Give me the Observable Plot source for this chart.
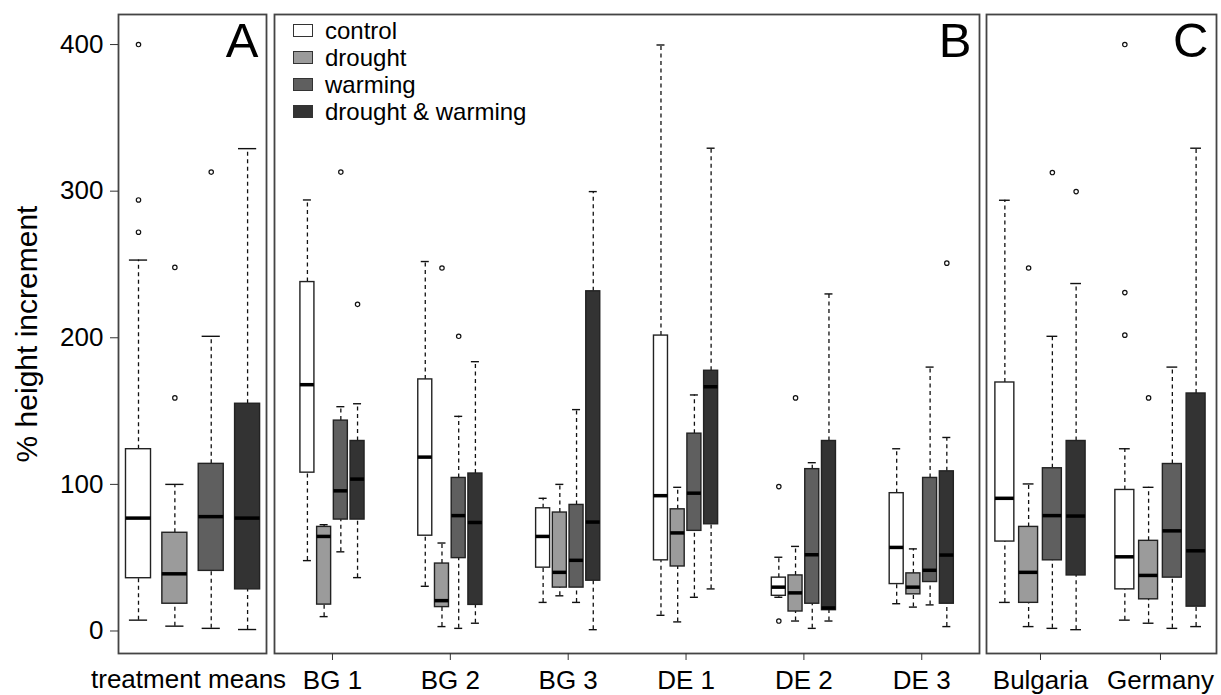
<!DOCTYPE html>
<html><head><meta charset="utf-8">
<script src="https://cdn.jsdelivr.net/npm/d3@7"></script>
<script src="https://cdn.jsdelivr.net/npm/@observablehq/plot@0.6"></script>
<style>
body{margin:0;background:#fff;font-family:"Liberation Sans",Arial,sans-serif}
#wrap{position:relative;width:1221px;height:695px;overflow:hidden;background:#fff}
#wrap svg{position:absolute;top:0;overflow:visible}
.legend{position:absolute;left:293px;top:17px;font-size:24px;color:#000;font-family:"Liberation Sans",Arial,sans-serif}
.legend div{display:flex;align-items:center;height:27px}
.legend span.sw{display:inline-block;width:18px;height:11px;border:1.3px solid #333;margin-right:12px;box-sizing:content-box}
</style></head><body><div id="wrap"></div>
<script>
// ---- data ----
const groups = ["treatment means","BG 1","BG 2","BG 3","DE 1","DE 2","DE 3","Bulgaria","Germany"];
const treatments = ["control","drought","warming","drought & warming"];
const treatmentFills = ["#ffffff","#9b9b9b","#5f5f5f","#333333"];
const yTicks = [0,100,200,300,400];

// rows follow `groups`, columns follow `treatments`
const whiskerLow = [
  [7.4, 3.3, 1.8, 1],
  [48, 9.8, 54, 36.4],
  [30.5, 3, 1.8, 5.3],
  [19.5, 24, 19.5, 0.9],
  [10.7, 6.2, 23, 28.7],
  [23, 6.8, 1.8, 6.8],
  [18.6, 16.3, 17.8, 3],
  [19.5, 3, 1.8, 0.9],
  [7.4, 5.3, 1.8, 3]
];
const lowerQuartile = [
  [36, 18.6, 41, 28.4],
  [108, 18, 76, 76],
  [65, 16.3, 49.7, 17.8],
  [43.2, 29.6, 29.6, 34.3],
  [48.2, 44, 68.3, 72.8],
  [24, 13.3, 18.6, 14.2],
  [32, 25, 33.4, 18.6],
  [61, 19.2, 48.2, 37.9],
  [28.4, 21.6, 36.4, 16.6]
];
const medians = [
  [77, 39, 78, 77],
  [168, 64.5, 95.6, 103.6],
  [118.6, 20.7, 78.7, 74],
  [64.5, 40, 48.2, 74.3],
  [92.3, 66.9, 94, 166.6],
  [29.9, 26, 52, 15.7],
  [57, 29.9, 41.4, 51.8],
  [90.5, 40, 78.7, 78.4],
  [50.6, 37.9, 68.3, 54.7]
];
const upperQuartile = [
  [124, 67, 114, 155],
  [238, 71, 143.5, 129.6],
  [171.6, 46, 104.4, 107.4],
  [83.7, 80.8, 86, 231.7],
  [201.5, 83, 134.6, 177.5],
  [36.4, 37.9, 110.4, 129.6],
  [94, 39.3, 104.4, 108.9],
  [169.5, 71, 111, 129.6],
  [96.2, 61.5, 113.9, 162]
];
const whiskerHigh = [
  [253, 100, 201, 329],
  [294, 72.5, 153, 155],
  [252, 60, 146.4, 183.7],
  [90.5, 100, 151, 299.7],
  [399.7, 98, 161, 329.3],
  [50.3, 57.7, 114.8, 229.9],
  [124.3, 56, 180, 132],
  [293.8, 100.3, 201, 237],
  [124.3, 98, 180, 329.3]
];
const outlierGroup = ["treatment means","treatment means","treatment means","treatment means","treatment means","treatment means",
  "BG 1","BG 1","BG 2","BG 2","DE 2","DE 2","DE 2","DE 3",
  "Bulgaria","Bulgaria","Bulgaria","Germany","Germany","Germany","Germany"];
const outlierTreatment = ["control","control","control","drought","drought","warming",
  "warming","drought & warming","drought","warming","control","control","drought","drought & warming",
  "drought","warming","drought & warming","control","control","control","drought"];
const outlierValue = [400, 294, 272, 248, 159, 313,
  313, 222.8, 247.6, 201, 98.5, 6.8, 159, 250.9,
  247.6, 312.7, 299.7, 400, 230.8, 201.8, 159];

// ---- layout ----
const panels = [
  {id:"A", groups:[0], centers:[2.5], offset:1, half:0.344, cap:0.25, domain:[0.45,4.52], left:0, width:270, ml:118, mr:4},
  {id:"B", groups:[1,2,3,4,5,6], centers:[1,2,3,4,5,6], offset:0.1418, half:0.0594, cap:0.034, domain:[0.508,6.49], left:270, width:714, ml:4, mr:5},
  {id:"C", groups:[7,8], centers:[1,2], offset:0.198, half:0.079, cap:0.045, domain:[0.55,2.467], left:982, width:239, ml:4, mr:5}
];
const FONT = '"Liberation Sans", Arial, sans-serif';
const wrap = document.getElementById("wrap");

for (const p of panels) {
  const rows = [];
  p.groups.forEach((g, k) => treatments.forEach((t, i) => {
    const c = p.centers[k] + (i - 1.5) * p.offset;
    rows.push({treatment: t, c, x1: c - p.half, x2: c + p.half, cx1: c - p.cap, cx2: c + p.cap,
      lo: whiskerLow[g][i], q1: lowerQuartile[g][i], med: medians[g][i], q3: upperQuartile[g][i], hi: whiskerHigh[g][i]});
  }));
  const outs = outlierValue.map((v, j) => ({g: groups.indexOf(outlierGroup[j]), t: treatments.indexOf(outlierTreatment[j]), v}))
    .filter(o => p.groups.includes(o.g))
    .map(o => ({c: p.centers[p.groups.indexOf(o.g)] + (o.t - 1.5) * p.offset, v: o.v}));

  const marks = [
    Plot.ruleX(rows, {x: "c", y1: "q3", y2: "hi", stroke: "#111", strokeWidth: 1.3, strokeDasharray: "4,3.5"}),
    Plot.ruleX(rows, {x: "c", y1: "lo", y2: "q1", stroke: "#111", strokeWidth: 1.3, strokeDasharray: "4,3.5"}),
    Plot.ruleY(rows, {y: "hi", x1: "cx1", x2: "cx2", stroke: "#111", strokeWidth: 1.4}),
    Plot.ruleY(rows, {y: "lo", x1: "cx1", x2: "cx2", stroke: "#111", strokeWidth: 1.4}),
    Plot.rect(rows, {x1: "x1", x2: "x2", y1: "q1", y2: "q3", fill: "treatment", stroke: "#222", strokeWidth: 1.4}),
    Plot.ruleY(rows, {y: "med", x1: "x1", x2: "x2", stroke: "#000", strokeWidth: 3.5}),
    Plot.dot(outs, {x: "c", y: "v", r: 2.2, stroke: "#111", strokeWidth: 1.2, fill: "none"}),
    Plot.frame({stroke: "#444", strokeWidth: 1.8}),
    Plot.text([p.id], {text: d => d, frameAnchor: "top-right", lineAnchor: "top", dx: -8, dy: 8, fontSize: 49, fill: "#000"})
  ];
  if (p.id === "A") {
    marks.push(
      Plot.axisY({ticks: yTicks, tickSize: 8, tickPadding: 7, fontSize: 26, label: null, stroke: "#333", fill: "#000"}),
      Plot.text(["% height increment"], {text: d => d, frameAnchor: "left", rotate: -90, textAnchor: "middle", lineAnchor: "middle", dx: -91.5, fontSize: 30, fill: "#000"}),
      Plot.text([groups[0]], {text: d => d, x: () => p.centers[0], frameAnchor: "bottom", lineAnchor: "top", dy: 16.5, dx: -4.5, fontSize: 26, fill: "#000"})
    );
  } else {
    marks.push(
      Plot.axisX({ticks: p.centers, tickFormat: v => groups[p.groups[p.centers.indexOf(v)]], tickSize: 7, tickPadding: 10, fontSize: 26, label: null, stroke: "#333", fill: "#000"})
    );
  }

  const svg = Plot.plot({
    width: p.width, height: 695,
    marginLeft: p.ml, marginRight: p.mr, marginTop: 14, marginBottom: 42,
    x: {domain: p.domain, axis: null},
    y: {domain: [-15.35, 420.5], axis: null},
    color: {domain: treatments, range: treatmentFills},
    style: {fontFamily: FONT, color: "#000", background: "transparent", overflow: "visible"},
    marks
  });
  svg.style.left = p.left + "px";
  wrap.appendChild(svg);
}

// legend inside panel B
const legend = document.createElement("div");
legend.className = "legend";
treatments.forEach((t, i) => {
  const row = document.createElement("div");
  const sw = document.createElement("span");
  sw.className = "sw";
  sw.style.background = treatmentFills[i];
  row.appendChild(sw);
  row.appendChild(document.createTextNode(t));
  legend.appendChild(row);
});
wrap.appendChild(legend);
</script></body></html>
